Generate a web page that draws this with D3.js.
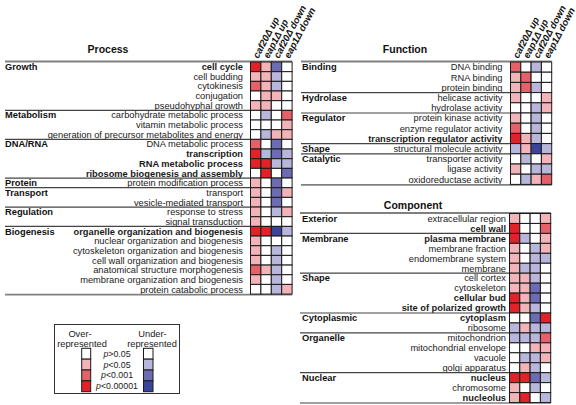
<!DOCTYPE html>
<html><head><meta charset="utf-8">
<script src="https://cdn.jsdelivr.net/npm/d3@7"></script>
<style>
html,body{margin:0;padding:0;background:#fff;}
svg{display:block;font-family:"Liberation Sans",Arial,Helvetica,sans-serif;}
</style></head>
<body>
<svg id="chart" width="576" height="405"></svg>
<script>
// ---------- DATA ----------
const columns = ["caf20Δ up", "eap1Δ up", "caf20Δ down", "eap1Δ down"];
// value codes: 3/2/1 = over-represented p<0.00001 / p<0.001 / p<0.05 ; 0 = p>0.05 ; -1/-2/-3 = under-represented
const levels = [-3, -2, -1, 0, 1, 2, 3];
const levelColors = ["#3b449c", "#6b6cb4", "#b9b6db", "#ffffff", "#f3b4b9", "#e6606a", "#e12329"];

const processRows = ["cell cycle","cell budding","cytokinesis","conjugation","pseudohyphal growth",
  "carbohydrate metabolic process","vitamin metabolic process","generation of precursor metabolites and energy",
  "DNA metabolic process","transcription","RNA metabolic process","ribosome biogenesis and assembly",
  "protein modification process","transport","vesicle-mediated transport","response to stress","signal transduction",
  "organelle organization and biogenesis","nuclear organization and biogenesis","cytoskeleton organization and biogenesis",
  "cell wall organization and biogenesis","anatomical structure morphogenesis","membrane organization and biogenesis",
  "protein catabolic process"];
const processGroups = ["Growth","Metabolism","DNA/RNA","Protein","Transport","Regulation","Biogenesis"];
const processGroupSizes = [5, 3, 4, 1, 2, 2, 7];
const processBold = ["cell cycle","transcription","RNA metabolic process","ribosome biogenesis and assembly","organelle organization and biogenesis"];
const processValues = [
  [3,1,-2,0],[1,1,-1,0],[2,1,-1,0],[0,1,1,0],[1,1,0,0],
  [0,-1,0,2],[0,0,0,1],[0,-1,1,1],
  [2,0,-2,0],[3,-1,-2,-1],[3,3,-1,-1],[0,3,0,-2],
  [1,0,-2,0],
  [1,0,-2,1],[1,0,-2,0],
  [1,0,-1,1],[1,0,0,0],
  [3,3,-3,-1],[1,0,0,0],[1,0,-1,0],[1,0,-1,0],[2,1,-1,0],[1,0,-1,0],[0,0,-1,1]
];

const functionRows = ["DNA binding","RNA binding","protein binding","helicase activity","hydrolase activity",
  "protein kinase activity","enzyme regulator activity","transcription regulator activity",
  "structural molecule activity","transporter activity","ligase activity","oxidoreductase activity"];
const functionGroups = ["Binding","Hydrolase","Regulator","Shape","Catalytic"];
const functionGroupSizes = [3, 2, 3, 1, 3];
const functionBold = ["transcription regulator activity"];
const functionValues = [
  [2,0,-1,0],[1,2,0,0],[1,2,-1,0],
  [1,0,0,1],[0,0,-1,1],
  [1,0,-1,0],[2,0,-1,0],[3,1,-1,0],
  [-1,1,-3,-1],
  [0,-1,0,1],[1,0,-1,-1],[0,-1,1,2]
];

const componentRows = ["extracellular region","cell wall","plasma membrane","membrane fraction","endomembrane system","membrane",
  "cell cortex","cytoskeleton","cellular bud","site of polarized growth","cytoplasm","ribosome",
  "mitochondrion","mitochondrial envelope","vacuole","golgi apparatus","nucleus","chromosome","nucleolus"];
const componentGroups = ["Exterior","Membrane","Shape","Cytoplasmic","Organelle","Nuclear"];
const componentGroupSizes = [2, 4, 4, 2, 4, 3];
const componentBold = ["cell wall","plasma membrane","cellular bud","site of polarized growth","cytoplasm","nucleus","nucleolus"];
const componentValues = [
  [1,0,0,1],[3,0,0,2],
  [3,-1,0,1],[1,0,-1,1],[1,0,-1,-1],[1,-1,-1,0],
  [1,1,-1,0],[1,1,-2,0],[3,1,-2,0],[3,1,-1,0],
  [0,0,-2,3],[-1,1,-1,-1],
  [-1,-1,-1,2],[0,0,1,1],[0,-1,-1,1],[0,1,-1,0],
  [3,3,-2,-1],[1,0,-1,0],[1,3,0,-1]
];

const legendLabels = ["p>0.05", "p<0.05", "p<0.001", "p<0.00001"];
const legendOver = [0, 1, 2, 3];
const legendUnder = [0, -1, -2, -3];

// ---------- DRAW ----------
const svg = d3.select("#chart");
const color = d3.scaleOrdinal().domain(levels).range(levelColors);
const FS = 9.3;

function drawPanel(title, rows, groups, groupSizes, bold, values, L) {
  const g = svg.append("g");
  const y = d3.scaleBand().domain(d3.range(rows.length))
    .range([L.top, L.top + rows.length * L.rowH]);
  const x = d3.scaleBand().domain(columns)
    .range([L.gridX, L.gridX + columns.length * L.colW]);
  const right = L.gridX + columns.length * L.colW;

  g.append("text").attr("x", L.titleX).attr("y", L.titleY)
    .attr("text-anchor", "middle").attr("font-weight", "bold")
    .attr("font-size", 10.5).attr("fill", "#111").text(title);

  if (L.headers) {
    g.selectAll("text.hdr").data(columns).join("text").attr("class", "hdr")
      .attr("transform", d => `translate(${x(d) + x.bandwidth() / 2 + 2.6},${L.top - 3}) rotate(-62)`)
      .attr("font-size", 9.6).attr("font-weight", "bold").attr("font-style", "italic")
      .attr("fill", "#111").text(d => d);
  }

  // row labels
  g.selectAll("text.lab").data(rows).join("text").attr("class", "lab")
    .attr("x", L.labelX).attr("y", (d, i) => y(i) + y.bandwidth() / 2 + 3.3)
    .attr("text-anchor", "end").attr("font-size", FS).attr("fill", "#1a1a1a")
    .attr("font-weight", d => bold.includes(d) ? "bold" : "normal")
    .text(d => d);

  // group labels and separators
  let start = 0;
  const starts = groupSizes.map(s => { const v = start; start += s; return v; });
  g.selectAll("text.grp").data(groups).join("text").attr("class", "grp")
    .attr("x", L.groupX).attr("y", (d, i) => y(starts[i]) + y.bandwidth() / 2 + 3.3)
    .attr("font-size", FS).attr("font-weight", "bold").attr("fill", "#111").text(d => d);
  g.selectAll("line.sep").data(starts.slice(1)).join("line").attr("class", "sep")
    .attr("x1", L.lineX).attr("x2", right)
    .attr("y1", d => y(d)).attr("y2", d => y(d))
    .attr("stroke", "#444").attr("stroke-width", 1.2);
  // top & bottom rules
  g.append("line").attr("x1", L.lineX).attr("x2", right)
    .attr("y1", L.top - 0.5).attr("y2", L.top - 0.5)
    .attr("stroke", "#808080").attr("stroke-width", 2);
  g.append("line").attr("x1", L.lineX).attr("x2", right)
    .attr("y1", y.range()[1] + 0.5).attr("y2", y.range()[1] + 0.5)
    .attr("stroke", "#808080").attr("stroke-width", 1.6);

  // cells
  const cells = [];
  values.forEach((r, i) => r.forEach((v, j) => cells.push({ i, c: columns[j], v })));
  g.selectAll("rect.cell").data(cells).join("rect").attr("class", "cell")
    .attr("x", d => x(d.c)).attr("y", d => y(d.i))
    .attr("width", x.bandwidth()).attr("height", y.bandwidth())
    .attr("fill", d => color(d.v)).attr("stroke", "#1a1a1a").attr("stroke-width", 1);
}

drawPanel("Process", processRows, processGroups, processGroupSizes, processBold, processValues,
  { top: 62, rowH: 9.67, gridX: 250.5, colW: 10.4, labelX: 243, groupX: 5, lineX: 5, titleX: 108, titleY: 53, headers: true });
drawPanel("Function", functionRows, functionGroups, functionGroupSizes, functionBold, functionValues,
  { top: 62, rowH: 10.2, gridX: 510.5, colW: 10.3, labelX: 502.5, groupX: 302, lineX: 301, titleX: 405, titleY: 53, headers: true });
drawPanel("Component", componentRows, componentGroups, componentGroupSizes, componentBold, componentValues,
  { top: 213.5, rowH: 9.95, gridX: 509.5, colW: 10.3, labelX: 506, groupX: 302, lineX: 300, titleX: 413, titleY: 209, headers: false });

// legend
const lg = svg.append("g");
lg.append("rect").attr("x", 54.5).attr("y", 324.5).attr("width", 125).attr("height", 69)
  .attr("fill", "#fff").attr("stroke", "#333").attr("stroke-width", 1);
[["Over-", 80, 336.5], ["represented", 82, 346.5], ["Under-", 152.5, 336.5], ["represented", 152, 346.5]]
  .forEach(([t, x, yy]) => lg.append("text").attr("x", x).attr("y", yy)
    .attr("text-anchor", "middle").attr("font-size", FS).attr("fill", "#1a1a1a").text(t));
const ly = d3.scaleBand().domain(d3.range(4)).range([348.3, 391.7]);
lg.selectAll("rect.lo").data(legendOver).join("rect").attr("class", "lo")
  .attr("x", 81.7).attr("y", (d, i) => ly(i)).attr("width", 9).attr("height", ly.bandwidth())
  .attr("fill", d => color(d)).attr("stroke", "#1a1a1a");
lg.selectAll("rect.lu").data(legendUnder).join("rect").attr("class", "lu")
  .attr("x", 143.5).attr("y", (d, i) => ly(i)).attr("width", 9.5).attr("height", ly.bandwidth())
  .attr("fill", d => color(d)).attr("stroke", "#1a1a1a");
legendLabels.forEach((t, i) => {
  const tx = lg.append("text").attr("x", 117).attr("y", ly(i) + ly.bandwidth() / 2 + 3)
    .attr("text-anchor", "middle").attr("font-size", 8.8).attr("fill", "#1a1a1a");
  tx.append("tspan").attr("font-style", "italic").text("p");
  tx.append("tspan").text(t.slice(1));
});
</script>
</body></html>
